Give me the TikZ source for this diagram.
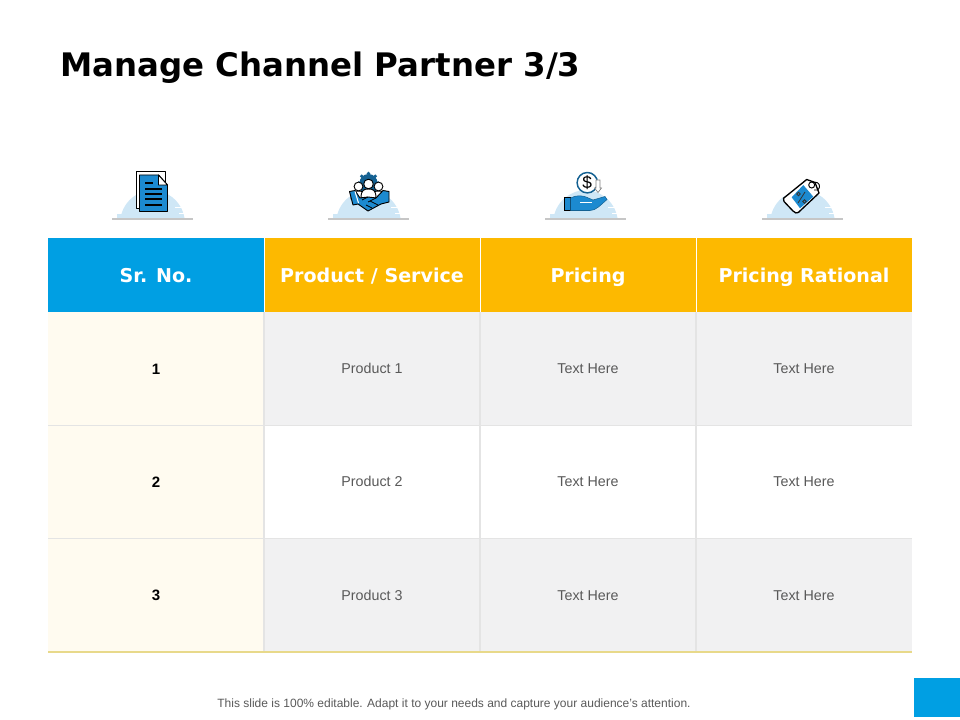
\documentclass[tikz,border=0pt]{standalone}
\usepackage{fontspec}
\setmainfont{Liberation Sans}
\newfontfamily\headfont{DejaVu Sans}
\definecolor{brandblue}{HTML}{009FE3}
\definecolor{brandyellow}{HTML}{FDB900}
\definecolor{creamcell}{HTML}{FFFBF0}
\definecolor{greycell}{HTML}{F1F1F2}
\definecolor{gridline}{HTML}{E4E4E4}
\definecolor{endline}{HTML}{E8D98A}
\definecolor{bodytext}{HTML}{595959}
\definecolor{domeblue}{HTML}{CFE7F6}
\definecolor{iconblue}{HTML}{1C8AD0}
\tikzset{
  headcell/.style={minimum width=162pt, minimum height=55.5pt, inner sep=0pt, outer sep=0pt, text=white, text height=11.8pt, text depth=0pt, font=\headfont\bfseries\fontsize{14.3pt}{17pt}\selectfont},
  numcell/.style={minimum width=162pt, minimum height=85pt, inner sep=0pt, outer sep=0pt, fill=creamcell, text height=8pt, text depth=0pt, font=\bfseries\fontsize{11.3pt}{14pt}\selectfont},
  bodycell/.style={minimum width=162pt, minimum height=85pt, inner sep=0pt, outer sep=0pt, text=bodytext, text height=7.2pt, text depth=0pt, font=\fontsize{10.7pt}{13pt}\selectfont},
  iconline/.style={draw=black, line width=0.7pt, line join=round},
  dome/.pic={
    \fill[domeblue] (-32,-1) .. controls (-29,-19) and (-13,-29) .. (0,-29) .. controls (13,-29) and (29,-19) .. (32,-1) -- cycle;
    \fill[domeblue] (-36,-5) rectangle (-20,-1);
    \fill[white] (22,-12) rectangle (34,-10.5);
    \fill[white] (26,-6) rectangle (34,-4.8);
    \draw[draw=gray!45, line width=0.9pt] (-40.5,0) -- (40.5,0);
  }
}
\begin{document}
\begin{tikzpicture}[x=0.75pt, y=-0.75pt, node distance=162pt]
    \useasboundingbox (0,0) rectangle (960,720);

    % Title
    \node[anchor=base west, inner sep=0pt, font=\headfont\bfseries\fontsize{24.3pt}{28pt}\selectfont] (title) at (60,77) {Manage Channel Partner 3/3};

    % Header row
    \node[headcell, fill=brandblue] (h1) at (156,275) {Sr. No.};
    \node[headcell, fill=brandyellow, right of=h1] (h2) {Product / Service};
    \node[headcell, fill=brandyellow, right of=h2] (h3) {Pricing};
    \node[headcell, fill=brandyellow, right of=h3] (h4) {Pricing Rational};

    % Row 1
    \node[numcell, below of=h1, node distance=70.25pt] (a1) {1};
    \node[bodycell, fill=greycell, right of=a1] (a2) {Product 1};
    \node[bodycell, fill=greycell, right of=a2] (a3) {Text Here};
    \node[bodycell, fill=greycell, right of=a3] (a4) {Text Here};

    % Row 2
    \node[numcell, below of=a1, node distance=85pt] (b1) {2};
    \node[bodycell, fill=white, right of=b1] (b2) {Product 2};
    \node[bodycell, fill=white, right of=b2] (b3) {Text Here};
    \node[bodycell, fill=white, right of=b3] (b4) {Text Here};

    % Row 3
    \node[numcell, below of=b1, node distance=85pt] (c1) {3};
    \node[bodycell, fill=greycell, right of=c1] (c2) {Product 3};
    \node[bodycell, fill=greycell, right of=c2] (c3) {Text Here};
    \node[bodycell, fill=greycell, right of=c3] (c4) {Text Here};

    % Lines of the table
    \draw[white, line width=0.6pt] (h1.north east) -- (h1.south east);
    \draw[white, line width=0.6pt] (h2.north east) -- (h2.south east);
    \draw[white, line width=0.6pt] (h3.north east) -- (h3.south east);
    \draw[gridline, line width=0.8pt] (a1.north east) -- (c1.south east);
    \draw[gridline, line width=0.8pt] (a2.north east) -- (c2.south east);
    \draw[gridline, line width=0.8pt] (a3.north east) -- (c3.south east);
    \draw[gridline, line width=0.8pt] (a1.south west) -- (a4.south east);
    \draw[gridline, line width=0.8pt] (b1.south west) -- (b4.south east);
    \draw[endline, line width=0.9pt] (c1.south west) -- (c4.south east);

    % Footer
    \node[text=bodytext, inner sep=0pt, font=\fontsize{9pt}{11pt}\selectfont] (note) at (454,704.5) {This slide is 100\% editable. Adapt it to your needs and capture your audience's attention.};
    \node[fill=brandblue, minimum width=34.5pt, minimum height=29.25pt, inner sep=0pt, outer sep=0pt] (corner) at (937,697.5) {};

    % Domes behind the icons
    \pic at (152.5,219) {dome};
    \pic at (368.5,219) {dome};
    \pic at (585.5,219) {dome};
    \pic at (802.5,219) {dome};

    % Document icon
    \draw[iconline, fill=white] (136.5,171.5) rectangle (165,208);
    \draw[iconline, fill=iconblue] (139.5,175) -- (158.5,175) -- (167.5,185) -- (167.5,211.5) -- (139.5,211.5) -- cycle;
    \draw[iconline, fill=white] (158.5,175) -- (158.5,185) -- (167.5,185) -- cycle;
    \draw[black, line width=0.8pt] (145,183) -- (153,183) (145,189) -- (162,189) (145,194) -- (162,194) (145,199) -- (162,199) (145,205) -- (162,205);

    % Partner icon
    \foreach \a in {0,45,...,315}
      \fill[iconblue!70!black] (368.5,183) ++(\a:9.5) circle (1.9);
    \fill[iconblue!70!black] (368.5,183) circle (9);
    \draw[iconline, fill=white] (351,199) .. controls (351,192) and (354,191) .. (358.5,191) .. controls (362,191) and (365,192) .. (365,199) -- cycle;
    \draw[iconline, fill=white] (372,199) .. controls (372,192) and (375,191) .. (378.5,191) .. controls (382,191) and (386,192) .. (386,199) -- cycle;
    \draw[iconline, fill=white] (358.5,186.5) circle (4.4);
    \draw[iconline, fill=white] (378.5,186.5) circle (4.4);
    \draw[iconline, fill=white] (361,198) .. controls (361,190) and (364,189) .. (368.5,189) .. controls (373,189) and (376,190) .. (376,198) -- cycle;
    \draw[iconline, fill=white] (368.5,184) circle (4.8);
    \draw[iconline, fill=iconblue] (349.5,191.5) -- (355,190.5) -- (360,198) -- (368,197) -- (376,198) -- (383,190.5) -- (389,191.5) -- (389,202) -- (381,204) -- (368,211) -- (358,204) -- (353,205) -- cycle;
    \draw[white, line width=0.8pt] (355,191.5) -- (358.5,203);
    \draw[black, line width=0.6pt] (362,200) -- (368,197) (368,202) -- (376,198) (366,205) -- (372,208) (370,201) -- (378,205);

    % Pricing icon
    \draw[draw=iconblue!70!black, fill=white, line width=1.1pt] (587.3,182.7) circle (10.2);
    \node[inner sep=0pt, font=\fontsize{13pt}{15pt}\selectfont] (dollar) at (587.3,182.7) {\$};
    \draw[draw=gray, fill=white, line width=0.5pt] (596,180) -- (600,180) -- (600,188) -- (601.5,188) -- (598,192.5) -- (594.5,188) -- (596,188) -- cycle;
    \draw[draw=black, fill=iconblue, line width=0.6pt] (564.3,197.3) rectangle (570,210.7);
    \draw[draw=iconblue!70!black, fill=iconblue, line width=0.4pt] (570.7,198) .. controls (576,195) and (582,195.5) .. (586,197) -- (593,200) -- (605,196.5) -- (607,199.5) .. controls (600,205.5) and (596,210.5) .. (590,210.5) -- (570.7,210.5) -- cycle;
    \draw[white, line width=0.5pt] (580,202) -- (592,202);

    % Tag icon
    \draw[iconline, line width=1pt, fill=white] (783.5,198.3) -- (806.7,179.5) -- (815,182.5) -- (819,193) -- (798.3,212.5) .. controls (796.5,213.5) and (795,213) .. (793,211) -- (784,201.5) .. controls (783,200.5) and (783,199.5) .. (783.5,198.3) -- cycle;
    \fill[iconblue] (791.7,197.3) -- (803.3,185) -- (813.3,196.7) -- (800,208.3) -- cycle;
    \draw[black!80, line width=0.6pt] (805,192) -- (798,203);
    \draw[black!80, line width=0.6pt] (798.5,194) circle (1.7) (804.5,201.5) circle (1.7);
    \draw[black, line width=0.7pt] (811.7,185) circle (3);
    \draw[black, line width=0.7pt] (813,183) .. controls (816,181) and (820,183) .. (819.5,187) .. controls (819,190) and (816,191) .. (814,190);
\end{tikzpicture}
\end{document}
